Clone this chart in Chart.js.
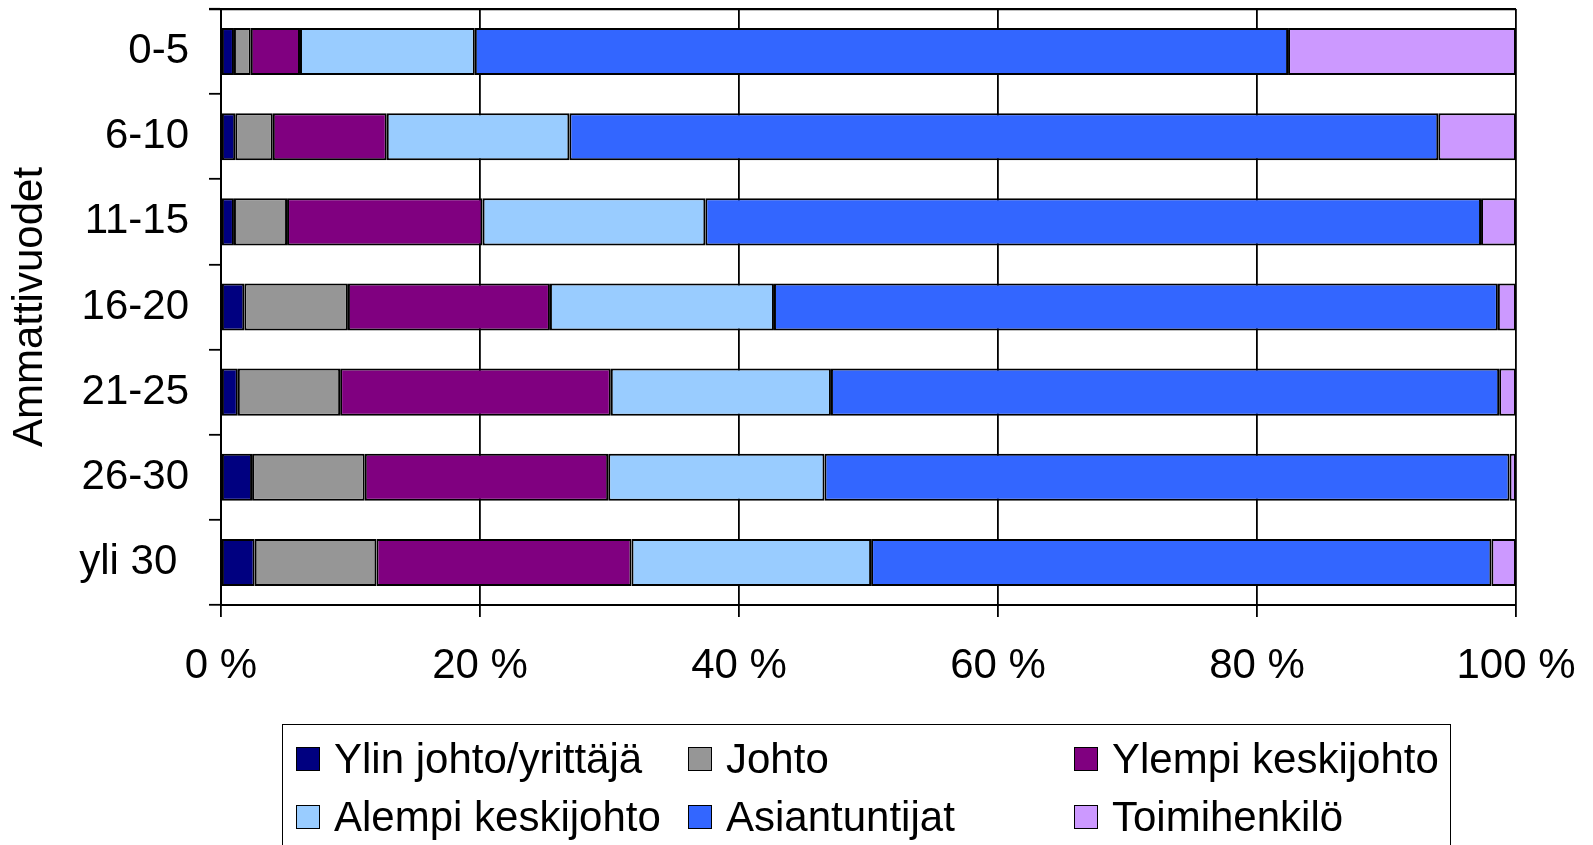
<!DOCTYPE html>
<html>
<head>
<meta charset="utf-8">
<script src="https://cdn.jsdelivr.net/npm/chart.js@4.4.0/dist/chart.umd.min.js"></script>
<style>
  html, body { margin: 0; padding: 0; background: #fff; }
  #wrap { position: relative; width: 1593px; height: 845px; overflow: hidden; background: #fff; }
  #c { position: absolute; left: 0; top: 0; }
  #legendBox { position: absolute; left: 282px; top: 724px; width: 1169px; height: 160px;
               border: 1.5px solid #000; box-sizing: border-box; }
  .item { position: absolute; display: flex; align-items: center; height: 40px;
          font-family: "Liberation Sans", Arial, sans-serif; font-size: 42px; color: #000; white-space: nowrap; }
  .sw { width: 24px; height: 24px; border: 1.5px solid #000; box-sizing: border-box; margin-right: 14px; flex: none; }
</style>
</head>
<body>
<div id="wrap">
  <canvas id="c" width="1593" height="845"></canvas>
  <div id="legendBox"></div>
</div>
<script>
// ---- data ----
const categories = ['0-5', '6-10', '11-15', '16-20', '21-25', '26-30', 'yli 30 '];
const seriesNames = ['Ylin johto/yrittäjä', 'Johto', 'Ylempi keskijohto', 'Alempi keskijohto', 'Asiantuntijat', 'Toimihenkilö'];
const ylinJohto     = [1.0, 1.1, 1.0, 1.8, 1.3, 2.4, 2.6];
const johto         = [1.3, 2.9, 4.1, 8.0, 7.9, 8.7, 9.4];
const ylempiKeski   = [3.8, 8.8, 15.1, 15.6, 20.9, 18.8, 19.7];
const alempiKeski   = [13.5, 14.1, 17.2, 17.3, 17.0, 16.7, 18.5];
const asiantuntijat = [62.8, 67.1, 59.9, 55.9, 51.6, 52.9, 47.9];
const toimihenkilo  = [17.6, 6.0, 2.7, 1.4, 1.3, 0.5, 1.9];
const xTickValues = [0, 20, 40, 60, 80, 100];
const axisTitle = 'Ammattivuodet';

const seriesValues = [ylinJohto, johto, ylempiKeski, alempiKeski, asiantuntijat, toimihenkilo];
const seriesColors = ['#000080', '#969696', '#800080', '#99CCFF', '#3366FF', '#CC99FF'];

const FONT = { family: '"Liberation Sans", Arial, sans-serif', size: 42, lineHeight: 1.2 };

const datasets = seriesNames.map((name, i) => ({
  label: name,
  data: seriesValues[i],
  backgroundColor: seriesColors[i],
  borderColor: '#000',
  borderWidth: 2,
  borderSkipped: false,
  barPercentage: 0.553,
  categoryPercentage: 1.0
}));

// frame line along the top of the plot area (the y grid's first boundary)
const topFrame = {
  id: 'topFrame',
  beforeDatasetsDraw(chart) {
    const { ctx, chartArea } = chart;
    const y = Math.round(chartArea.top) + 0.5;
    ctx.save();
    ctx.strokeStyle = '#000';
    ctx.lineWidth = 1.6;
    ctx.beginPath();
    ctx.moveTo(chartArea.left - 12, y);
    ctx.lineTo(chartArea.right, y);
    ctx.stroke();
    ctx.restore();
  }
};

const chart = new Chart(document.getElementById('c'), {
  type: 'bar',
  data: { labels: categories, datasets },
  plugins: [topFrame],
  options: {
    indexAxis: 'y',
    responsive: false,
    animation: false,
    devicePixelRatio: 1,
    layout: { padding: { top: 9, right: 77, bottom: 0, left: 0 } },
    plugins: { legend: { display: false }, tooltip: { enabled: false } },
    scales: {
      x: {
        type: 'linear', stacked: true, min: 0, max: 100, position: 'bottom',
        afterBuildTicks: s => { s.ticks = xTickValues.map(v => ({ value: v })); },
        ticks: { callback: v => v + ' %', font: FONT, color: '#000', padding: 24, maxRotation: 0, autoSkip: false },
        grid: { color: '#000', lineWidth: 1.8, tickLength: 12, tickColor: '#000', tickWidth: 1.8, drawTicks: true },
        border: { color: '#000', width: 2 },
        afterFit: s => { s.height = 240; s.paddingLeft = 0; s.paddingRight = 0; }
      },
      y: {
        type: 'category', stacked: true, offset: true,
        ticks: { font: FONT, color: '#000', padding: 20, autoSkip: false },
        grid: {
          offset: true,
          color: ctx => ctx.index === 0 ? '#000' : 'rgba(0,0,0,0)',
          tickColor: '#000', lineWidth: 1.6, tickWidth: 1.8, tickLength: 12, drawTicks: true
        },
        border: { color: '#000', width: 2 },
        title: { display: true, text: axisTitle, font: FONT, color: '#000', padding: { top: 5, bottom: 0 } },
        afterFit: s => { s.width = 221; s.paddingTop = 0; s.paddingBottom = 0; }
      }
    }
  }
});

// ---- legend (HTML, built from the chart's datasets) ----
const wrap = document.getElementById('wrap');
const colLeft = [296, 688, 1074];
const rowCenter = [759, 817];
chart.data.datasets.forEach((ds, i) => {
  const row = Math.floor(i / 3), col = i % 3;
  const item = document.createElement('div');
  item.className = 'item';
  item.style.left = colLeft[col] + 'px';
  item.style.top = (rowCenter[row] - 20) + 'px';
  const sw = document.createElement('span');
  sw.className = 'sw';
  sw.style.background = ds.backgroundColor;
  const tx = document.createElement('span');
  tx.textContent = ds.label;
  item.appendChild(sw);
  item.appendChild(tx);
  wrap.appendChild(item);
});
</script>
</body>
</html>
